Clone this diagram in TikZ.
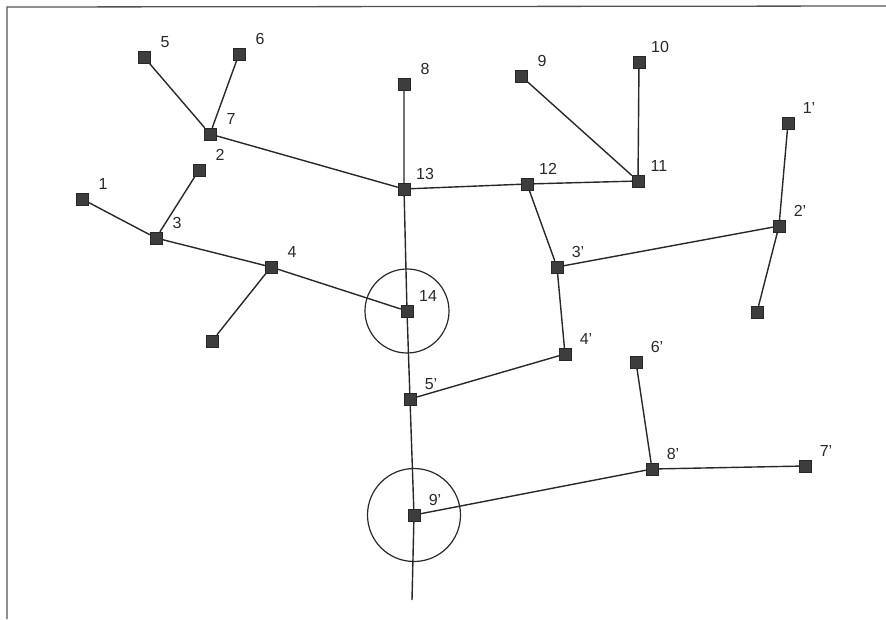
\documentclass[tikz,border=0pt]{standalone}
\usepackage{fontspec}
\setmainfont{Liberation Sans}
\usepackage{tikz}
\definecolor{ink}{RGB}{40, 40, 40}

\begin{document}
\begin{tikzpicture}[x=1pt, y=-1pt,
  sq/.style={draw=ink, fill=ink!90, minimum size=12pt, inner sep=0pt},
  lab/.style={label={[font=\fontsize{16}{18}\selectfont, text=ink, xshift=21pt, yshift=15pt]center:#1}},
  link/.style={draw=ink, line width=1.4pt},
  ring/.style={draw=ink, line width=1.2pt}]

  \useasboundingbox (0,0) rectangle (886,619);
  \draw[ink!80, line width=1.3pt] (7,619) -- (7,7) -- (886,6);

  % left tree
  \node[sq, lab=5] (n5) at (144,57) {};
  \node[sq, lab=6] (n6) at (239,54) {};
  \node[sq, lab=7] (n7) at (210,134) {};
  \node[sq, lab=2] (n2) at (199,170) {};
  \node[sq, lab=1] (n1) at (82,199) {};
  \node[sq, lab=3] (n3) at (156,238) {};
  \node[sq, lab=4] (n4) at (271,267) {};
  \node[sq] (n4a) at (212,341) {};

  % trunk
  \node[sq, lab=8] (n8) at (404,84) {};
  \node[sq, lab=13] (n13) at (404,189) {};
  \node[sq, lab=14] (n14) at (407,311) {};
  \node[sq, lab=5'] (p5) at (410,399) {};
  \node[sq, lab=9'] (p9) at (414,515) {};
  \coordinate (tail) at (412,600);

  % right tree
  \node[sq, lab=12] (n12) at (527,184) {};
  \node[sq, lab=9] (n9) at (521,76) {};
  \node[sq, lab=10] (n10) at (639,62) {};
  \node[sq, lab=11] (n11) at (638,181) {};
  \node[sq, lab=1'] (p1) at (788,123) {};
  \node[sq, lab=2'] (p2) at (779,226) {};
  \node[sq] (p2a) at (757,312) {};
  \node[sq, lab=3'] (p3) at (557,267) {};
  \node[sq, lab=4'] (p4) at (565,354) {};
  \node[sq, lab=6'] (p6) at (636,362) {};
  \node[sq, lab=8'] (p8) at (652,469) {};
  \node[sq, lab=7'] (p7) at (805,466) {};

  \draw[ring] (n14) circle (42);
  \draw[ring] (p9) circle (46.5);

  \path[link] (n5) -- (n7) (n6) -- (n7) (n7) -- (n13)
    (n2) -- (n3) (n1) -- (n3) (n3) -- (n4) (n4) -- (n14) (n4) -- (n4a);
  \path[link] (n8) -- (n13) -- (n14) -- (p5) -- (p9) -- (tail);
  \path[link] (n13) -- (n12) -- (n11) (n9) -- (n11) (n10) -- (n11)
    (n12) -- (p3) -- (p2) (p2) -- (p1) (p2) -- (p2a)
    (p3) -- (p4) -- (p5);
  \path[link] (p9) -- (p8) (p8) -- (p6) (p8) -- (p7);
\end{tikzpicture}
\end{document}
